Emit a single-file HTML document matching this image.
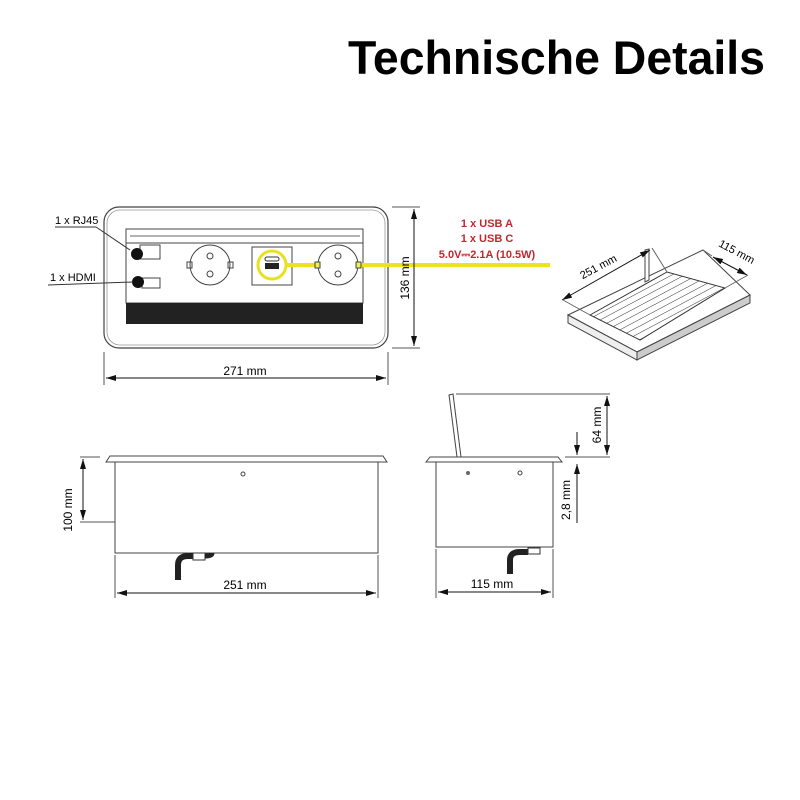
<!DOCTYPE html>
<html><head><meta charset="utf-8"><style>
html,body{margin:0;padding:0;background:#fff}
svg{display:block}
text{font-family:"Liberation Sans",sans-serif}
</style></head><body>
<svg width="800" height="800" viewBox="0 0 800 800" xmlns="http://www.w3.org/2000/svg">
<defs>
<marker id="a" viewBox="0 0 10 6" refX="10" refY="3" markerWidth="14" markerHeight="6" markerUnits="userSpaceOnUse" orient="auto-start-reverse"><path d="M0,0 L10,3 L0,6z" fill="#111"/></marker>
<pattern id="h" width="6" height="6" patternUnits="userSpaceOnUse" patternTransform="rotate(-28)"><line x1="0" y1="0" x2="6" y2="0" stroke="#333" stroke-width="1"/></pattern>
</defs>
<text x="765" y="74" font-size="47" font-weight="bold" text-anchor="end" fill="#000" textLength="417" lengthAdjust="spacingAndGlyphs">Technische Details</text>

<!-- top view -->
<rect x="104" y="207" width="284" height="141" rx="15" fill="none" stroke="#444" stroke-width="1.2"/>
<rect x="107" y="210" width="278" height="135" rx="13" fill="none" stroke="#999" stroke-width="0.8"/>
<rect x="126" y="229" width="237" height="14" fill="none" stroke="#444"/>
<line x1="130" y1="236" x2="360" y2="236" stroke="#666"/>
<rect x="126" y="243" width="237" height="60" fill="#fff" stroke="#444"/>
<rect x="126" y="303" width="237" height="21" fill="#222"/>
<circle cx="210" cy="265" r="20" fill="#fff" stroke="#444"/>
<circle cx="210" cy="256" r="3" fill="none" stroke="#444"/><circle cx="210" cy="274" r="3" fill="none" stroke="#444"/>
<rect x="187" y="262" width="5" height="6" fill="none" stroke="#444"/><rect x="228" y="262" width="5" height="6" fill="none" stroke="#444"/>
<rect x="252" y="247" width="40" height="38" fill="#fff" stroke="#444"/>
<rect x="140" y="245" width="20" height="14" fill="none" stroke="#444"/>
<rect x="142" y="278" width="18" height="10" fill="none" stroke="#444"/>
<circle cx="137" cy="254" r="6" fill="#111"/><circle cx="138" cy="282" r="6" fill="#111"/>
<line x1="285" y1="265" x2="550" y2="265" stroke="#f0e020" stroke-width="4"/>
<circle cx="338" cy="265" r="20" fill="#fff" stroke="#444"/>
<circle cx="338" cy="256" r="3" fill="none" stroke="#444"/><circle cx="338" cy="274" r="3" fill="none" stroke="#444"/>
<rect x="315" y="262" width="5" height="6" fill="#ee5" stroke="#444"/><rect x="356" y="262" width="5" height="6" fill="#ee5" stroke="#444"/>
<circle cx="272" cy="265" r="14" fill="none" stroke="#e8e020" stroke-width="3"/>
<rect x="265" y="257" width="14" height="4" rx="2" fill="none" stroke="#333"/>
<rect x="265" y="263" width="14" height="6" fill="#222"/>
<line x1="55" y1="227" x2="96" y2="227" stroke="#333"/><line x1="96" y1="227" x2="130" y2="250" stroke="#333"/>
<text x="55" y="224" font-size="11">1 x RJ45</text>
<line x1="48" y1="285" x2="133" y2="282" stroke="#333"/>
<text x="50" y="281" font-size="11">1 x HDMI</text>
<line x1="104" y1="352" x2="104" y2="385" stroke="#555"/><line x1="388" y1="352" x2="388" y2="385" stroke="#555"/>
<line x1="106" y1="378" x2="386" y2="378" stroke="#111" marker-start="url(#a)" marker-end="url(#a)"/>
<text x="245" y="375" font-size="12" text-anchor="middle">271 mm</text>
<line x1="392" y1="207" x2="420" y2="207" stroke="#555"/><line x1="392" y1="348" x2="420" y2="348" stroke="#555"/>
<line x1="414" y1="209" x2="414" y2="346" stroke="#111" marker-start="url(#a)" marker-end="url(#a)"/>
<text transform="translate(409,278) rotate(-90)" font-size="12" text-anchor="middle">136 mm</text>
<g fill="#c0282d" font-size="11" font-weight="bold" text-anchor="middle">
<text x="487" y="227">1 x USB  A</text><text x="487" y="242">1 x USB C</text><text x="487" y="258">5.0V⎓2.1A (10.5W)</text></g>

<!-- iso -->
<polygon points="568,315 703,250 750,295 637,352" fill="#fff" stroke="#444"/>
<polygon points="568,315 637,352 637,360 568,323" fill="#eee" stroke="#444"/>
<polygon points="637,352 750,295 750,303 637,360" fill="#ccc" stroke="#444"/>
<polygon points="590,315 667,272 725,288 640,340" fill="url(#h)" stroke="#333"/>
<polygon points="645,250 649,249 649,280 645,282" fill="#fff" stroke="#444"/>
<line x1="562" y1="300" x2="650" y2="250" stroke="#111" marker-start="url(#a)" marker-end="url(#a)"/>
<line x1="713" y1="257" x2="747" y2="275" stroke="#111" marker-start="url(#a)" marker-end="url(#a)"/>
<line x1="563" y1="300" x2="590" y2="315" stroke="#666"/><line x1="652" y1="248" x2="667" y2="272" stroke="#666"/>
<line x1="703" y1="250" x2="712" y2="256" stroke="#666"/><line x1="748" y1="275" x2="725" y2="288" stroke="#666"/>
<text transform="translate(600,270) rotate(-28)" font-size="11" text-anchor="middle">251 mm</text>
<text transform="translate(735,255) rotate(28)" font-size="11" text-anchor="middle">115 mm</text>

<!-- front view -->
<polygon points="106,462 110,456 383,456 387,462" fill="#fff" stroke="#444"/>
<rect x="115" y="462" width="263" height="91" fill="#fff" stroke="#444"/>
<circle cx="243" cy="474" r="2" fill="none" stroke="#444"/>
<path d="M178,580 L178,565 Q178,556 188,556 L195,556" fill="none" stroke="#222" stroke-width="6"/>
<rect x="193" y="553" width="12" height="7" fill="#fff" stroke="#333"/>
<path d="M205,556 Q212,556 212,553" fill="none" stroke="#222" stroke-width="5"/>
<line x1="80" y1="457" x2="100" y2="457" stroke="#555"/>
<line x1="80" y1="522" x2="115" y2="522" stroke="#555"/>
<line x1="83" y1="459" x2="83" y2="520" stroke="#111" marker-start="url(#a)" marker-end="url(#a)"/>
<text transform="translate(72,510) rotate(-90)" font-size="12" text-anchor="middle">100 mm</text>
<line x1="115" y1="555" x2="115" y2="598" stroke="#555"/><line x1="378" y1="555" x2="378" y2="598" stroke="#555"/>
<line x1="117" y1="593" x2="376" y2="593" stroke="#111" marker-start="url(#a)" marker-end="url(#a)"/>
<text x="245" y="589" font-size="12" text-anchor="middle">251 mm</text>

<!-- side view -->
<polygon points="426,462 430,457 558,457 562,462" fill="#fff" stroke="#444"/>
<polygon points="449,395 453,394 461,457 457,457" fill="#fff" stroke="#444"/>
<rect x="436" y="462" width="117" height="85" fill="#fff" stroke="#444"/>
<circle cx="468" cy="473" r="2" fill="#666"/><circle cx="520" cy="473" r="2" fill="none" stroke="#444"/>
<path d="M510,574 L510,560 Q510,552 520,552 L528,552" fill="none" stroke="#222" stroke-width="6"/>
<rect x="528" y="548" width="12" height="6" fill="#fff" stroke="#333"/>
<line x1="456" y1="394" x2="610" y2="394" stroke="#555"/>
<line x1="565" y1="457" x2="610" y2="457" stroke="#555"/>
<line x1="607" y1="396" x2="607" y2="455" stroke="#111" marker-start="url(#a)" marker-end="url(#a)"/>
<text transform="translate(601,425) rotate(-90)" font-size="12" text-anchor="middle">64 mm</text>
<line x1="577" y1="432" x2="577" y2="455" stroke="#111" marker-end="url(#a)"/>
<line x1="577" y1="523" x2="577" y2="464" stroke="#111" marker-end="url(#a)"/>
<text transform="translate(570,500) rotate(-90)" font-size="12" text-anchor="middle">2,8 mm</text>
<line x1="436" y1="549" x2="436" y2="598" stroke="#555"/><line x1="553" y1="549" x2="553" y2="598" stroke="#555"/>
<line x1="438" y1="592" x2="551" y2="592" stroke="#111" marker-start="url(#a)" marker-end="url(#a)"/>
<text x="492" y="588" font-size="12" text-anchor="middle">115 mm</text>
</svg>
</body></html>
